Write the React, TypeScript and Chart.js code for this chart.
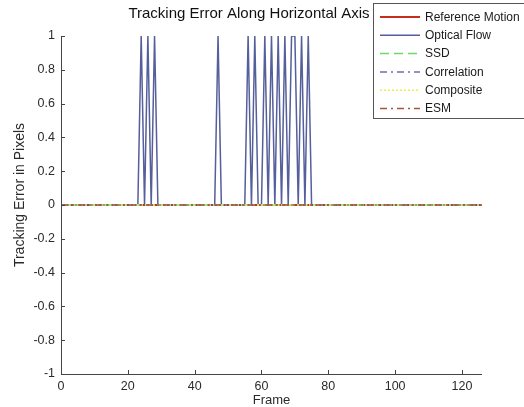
import React, { useEffect, useRef } from "react";
import { Chart, registerables } from "chart.js";

Chart.register(...registerables);

// ---- data ----
const frames: number[] = Array.from({ length: 127 }, (_, i) => i);

// Optical Flow error (pixels) per frame 0..126
const opticalFlow: number[] = [
  0, 0, 0, 0, 0, 0, 0, 0, 0, 0,
  0, 0, 0, 0, 0, 0, 0, 0, 0, 0,
  0, 0, 0, 0, 1, 0, 1, 0, 1, 0,
  0, 0, 0, 0, 0, 0, 0, 0, 0, 0,
  0, 0, 0, 0, 0, 0, 0, 1, 0, 0,
  0, 0, 0, 0, 0, 0, 1, 0, 1, 0,
  0, 1, 0, 1, 0, 1, 0, 1, 0, 1,
  1, 0, 1, 0, 1, 0, 0, 0, 0, 0,
  0, 0, 0, 0, 0, 0, 0, 0, 0, 0,
  0, 0, 0, 0, 0, 0, 0, 0, 0, 0,
  0, 0, 0, 0, 0, 0, 0, 0, 0, 0,
  0, 0, 0, 0, 0, 0, 0, 0, 0, 0,
  0, 0, 0, 0, 0, 0, 0,
];

// All other trackers sit on zero error for every frame 0..126
const zeroError: number[] = [
  0, 0, 0, 0, 0, 0, 0, 0, 0, 0,
  0, 0, 0, 0, 0, 0, 0, 0, 0, 0,
  0, 0, 0, 0, 0, 0, 0, 0, 0, 0,
  0, 0, 0, 0, 0, 0, 0, 0, 0, 0,
  0, 0, 0, 0, 0, 0, 0, 0, 0, 0,
  0, 0, 0, 0, 0, 0, 0, 0, 0, 0,
  0, 0, 0, 0, 0, 0, 0, 0, 0, 0,
  0, 0, 0, 0, 0, 0, 0, 0, 0, 0,
  0, 0, 0, 0, 0, 0, 0, 0, 0, 0,
  0, 0, 0, 0, 0, 0, 0, 0, 0, 0,
  0, 0, 0, 0, 0, 0, 0, 0, 0, 0,
  0, 0, 0, 0, 0, 0, 0, 0, 0, 0,
  0, 0, 0, 0, 0, 0, 0,
];
const referenceMotion = zeroError;
const ssd = zeroError;
const correlation = zeroError;
const composite = zeroError;
const esm = zeroError;

const seriesNames = ["Reference Motion", "Optical Flow", "SSD", "Correlation", "Composite", "ESM"];
const xTickValues = [0, 20, 40, 60, 80, 100, 120];
const yTickValues = [-1, -0.8, -0.6, -0.4, -0.2, 0, 0.2, 0.4, 0.6, 0.8, 1];
const yTickLabels = ["-1", "-0.8", "-0.6", "-0.4", "-0.2", "0", "0.2", "0.4", "0.6", "0.8", "1"];
const titleText = "Tracking Error Along Horizontal Axis";
const xTitle = "Frame";
const yTitle = "Tracking Error in Pixels";

// ---- styles ----
const FONT = "'Liberation Sans', Arial, sans-serif";
const TEXT = "#2b2b2b";
const AXIS = "#444";
const styles = [
  { color: "rgb(200,45,25)", width: 2, dash: [] as number[] },
  { color: "rgb(85,95,155)", width: 1.5, dash: [] as number[] },
  { color: "rgb(110,215,110)", width: 1.5, dash: [9, 5] },
  { color: "rgb(120,110,165)", width: 1.5, dash: [7, 4, 2, 4] },
  { color: "rgb(235,235,90)", width: 1.5, dash: [2, 2] },
  { color: "rgb(165,85,65)", width: 1.5, dash: [7, 4, 2, 4] },
];
const seriesValues = [referenceMotion, opticalFlow, ssd, correlation, composite, esm];

const overlay = {
  id: "overlay",
  afterDraw(chart: any) {
    const { ctx, chartArea: a, scales } = chart;
    const x = scales.x;
    const y = scales.y;
    ctx.save();
    // axes lines
    ctx.strokeStyle = AXIS;
    ctx.lineWidth = 1;
    ctx.setLineDash([]);
    ctx.beginPath();
    ctx.moveTo(Math.round(a.left) + 0.5, a.top);
    ctx.lineTo(Math.round(a.left) + 0.5, Math.round(a.bottom) + 0.5);
    ctx.lineTo(a.right, Math.round(a.bottom) + 0.5);
    yTickValues.forEach((v) => {
      const py = Math.round(y.getPixelForValue(v)) + 0.5;
      ctx.moveTo(a.left, py);
      ctx.lineTo(a.left + 4, py);
    });
    xTickValues.forEach((v) => {
      const px = Math.round(x.getPixelForValue(v)) + 0.5;
      ctx.moveTo(px, a.bottom);
      ctx.lineTo(px, a.bottom - 4);
    });
    ctx.stroke();

    // title
    ctx.fillStyle = "#111";
    ctx.font = `15px ${FONT}`;
    ctx.textAlign = "center";
    ctx.textBaseline = "middle";
    ctx.fillText(titleText, 249, 14);

    // x title
    ctx.fillStyle = TEXT;
    ctx.font = `13px ${FONT}`;
    ctx.fillText(xTitle, (a.left + a.right) / 2, 400);

    // y title
    ctx.save();
    ctx.font = `14px ${FONT}`;
    ctx.translate(20, 195);
    ctx.rotate(-Math.PI / 2);
    ctx.fillText(yTitle, 0, 0);
    ctx.restore();

    // legend
    const bx = 373, by = 3, bw = 160, bh = 115;
    ctx.fillStyle = "#fff";
    ctx.fillRect(bx, by, bw, bh);
    ctx.strokeStyle = "#555";
    ctx.lineWidth = 1;
    ctx.strokeRect(bx + 0.5, by + 0.5, bw, bh);
    ctx.textAlign = "left";
    ctx.font = `12px ${FONT}`;
    seriesNames.forEach((name, i) => {
      const ry = 17 + i * 18.3;
      const s = styles[i];
      ctx.strokeStyle = s.color;
      ctx.lineWidth = s.width;
      ctx.setLineDash(s.dash);
      ctx.beginPath();
      ctx.moveTo(380, ry);
      ctx.lineTo(420, ry);
      ctx.stroke();
      ctx.setLineDash([]);
      ctx.fillStyle = "#1a1a1a";
      ctx.fillText(name, 425, ry + 0.5);
    });
    ctx.restore();
  },
};

export default function App() {
  const canvasRef = useRef<HTMLCanvasElement | null>(null);

  useEffect(() => {
    if (!canvasRef.current) return;
    const datasets = seriesNames.map((name, i) => ({
      label: name,
      data: frames.map((f, k) => ({ x: f, y: seriesValues[i][k] })),
      borderColor: styles[i].color,
      backgroundColor: styles[i].color,
      borderWidth: styles[i].width,
      borderDash: styles[i].dash,
      pointRadius: 0,
      tension: 0,
      fill: false,
      order: seriesNames.length - i,
    }));
    const chart = new Chart(canvasRef.current, {
      type: "line",
      data: { datasets },
      options: {
        animation: false,
        responsive: false,
        maintainAspectRatio: false,
        layout: { padding: { top: 36, right: 42, left: 0, bottom: 0 } },
        plugins: {
          legend: { display: false },
          title: { display: false },
          tooltip: { enabled: false },
        },
        scales: {
          x: {
            type: "linear",
            min: 0,
            max: 126,
            grid: { display: false, drawTicks: false },
            border: { display: false },
            afterFit: (s: any) => {
              s.height = 33;
            },
            afterBuildTicks: (s: any) => {
              s.ticks = xTickValues.map((v) => ({ value: v }));
            },
            ticks: {
              padding: 5,
              maxRotation: 0,
              autoSkip: false,
              color: TEXT,
              font: { family: FONT, size: 12.5 },
              callback: (v: any) => String(v),
            },
          },
          y: {
            type: "linear",
            min: -1,
            max: 1,
            grid: { display: false, drawTicks: false },
            border: { display: false },
            afterFit: (s: any) => {
              s.width = 61;
            },
            afterBuildTicks: (s: any) => {
              s.ticks = yTickValues.map((v) => ({ value: v }));
            },
            ticks: {
              padding: 6,
              autoSkip: false,
              color: TEXT,
              font: { family: FONT, size: 12.5 },
              callback: (_v: any, idx: number) => yTickLabels[idx],
            },
          },
        },
      },
      plugins: [overlay],
    } as any);
    return () => chart.destroy();
  }, []);

  return (
    <div style={{ position: "fixed", left: 0, top: 0, width: 524, height: 407, background: "#fff" }}>
      <canvas ref={canvasRef} width={524} height={407} style={{ display: "block" }} />
    </div>
  );
}
